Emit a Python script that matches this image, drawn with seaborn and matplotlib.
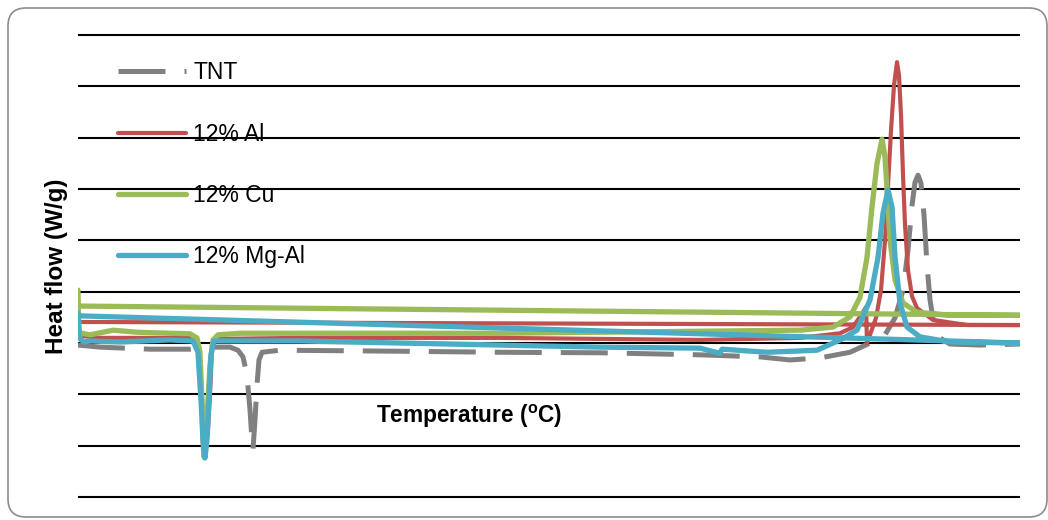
import matplotlib.pyplot as plt
import seaborn as sns
from matplotlib.patches import FancyBboxPatch
from matplotlib.transforms import IdentityTransform

# DSC curves (temperature in degC, heat flow in W/g)
tnt_t = [40.0, 48.8, 68.8, 84.8, 94.8, 100.8, 104.0, 106.0, 107.6, 108.8, 109.6, 110.0,
         110.8, 111.6, 112.4, 113.6, 120.8, 168.8, 208.8, 248.8, 288.8, 312.8, 324.8,
         336.8, 348.8, 356.8, 362.8, 366.8, 370.0, 372.0, 373.6, 374.8, 376.0, 377.2,
         378.4, 379.6, 380.8, 382.4, 384.8, 388.8, 400.8, 416.8]
tnt_hf = [-0.04, -0.08, -0.12, -0.12, -0.08, -0.08, -0.14, -0.27, -0.62, -1.30, -1.89, -2.08,
          -1.50, -0.82, -0.33, -0.18, -0.14, -0.16, -0.18, -0.19, -0.23, -0.27, -0.33,
          -0.29, -0.18, 0.00, 0.16, 0.49, 1.03, 1.81, 2.68, 3.13, 3.27, 3.11,
          2.49, 1.52, 0.84, 0.35, 0.10, -0.02, -0.04, -0.02]

al_t = [40.0, 40.8, 48.8, 84.8, 88.0, 89.2, 90.4, 91.2, 92.0, 92.8, 93.6, 94.8, 128.8,
        208.8, 288.8, 328.8, 344.8, 350.0, 354.0, 355.2, 355.6, 356.8, 359.2, 361.2,
        362.8, 364.0, 365.2, 366.4, 367.6, 368.4, 369.2, 370.0, 370.8, 372.0, 373.6,
        375.6, 382.0, 395.6, 416.8, 40.0]
al_hf = [0.64, 0.14, 0.10, 0.10, -0.04, -0.72, -1.69, -2.02, -1.69, -1.01, -0.14, 0.08, 0.10,
         0.10, 0.06, 0.10, 0.19, 0.31, 0.60, 0.70, 0.00, 0.16, 0.49, 1.03,
         2.00, 3.07, 4.14, 5.02, 5.47, 5.21, 4.44, 3.27, 2.30, 1.42, 0.91,
         0.68, 0.45, 0.35, 0.35, 0.41]

cu_t = [40.0, 40.4, 41.6, 44.8, 50.0, 54.0, 63.6, 76.8, 84.8, 87.6, 88.8, 89.6, 90.0,
        90.4, 91.2, 92.0, 92.8, 94.0, 96.0, 104.8, 208.8, 288.8, 328.8, 342.0, 348.8,
        352.8, 355.6, 357.6, 359.6, 361.6, 362.8, 363.6, 364.8, 366.8, 370.0, 375.6,
        388.8, 416.8, 40.0]
cu_hf = [1.03, 0.12, 0.19, 0.16, 0.21, 0.25, 0.21, 0.19, 0.18, 0.10, -0.18, -1.11, -1.89,
         -2.22, -1.89, -1.11, -0.43, 0.06, 0.16, 0.19, 0.19, 0.23, 0.25, 0.31, 0.51,
         0.89, 1.67, 2.65, 3.50, 3.97, 3.62, 2.98, 2.00, 1.23, 0.78, 0.60,
         0.54, 0.54, 0.72]

mgal_t = [40.0, 40.4, 42.4, 44.8, 56.8, 76.8, 86.0, 88.0, 89.2, 90.0, 90.8, 91.6, 92.4,
          93.2, 94.4, 98.8, 128.8, 188.8, 248.8, 288.8, 296.8, 297.6, 315.6, 335.6,
          344.8, 351.6, 356.8, 360.0, 362.0, 364.0, 365.6, 366.8, 368.8, 371.6, 376.8,
          388.8, 416.8, 40.0]
mgal_hf = [0.58, 0.10, 0.02, 0.04, 0.02, 0.06, 0.04, -0.18, -1.11, -1.89, -2.24, -1.89, -1.11,
           -0.23, 0.04, 0.04, 0.04, -0.02, -0.08, -0.10, -0.20, -0.12, -0.18, -0.14,
           0.06, 0.25, 0.84, 1.67, 2.53, 2.98, 2.65, 1.67, 0.78, 0.31, 0.12,
           0.02, 0.00, 0.53]

sns.set_style("white")
plt.rcParams['font.family'] = ['Liberation Sans', 'DejaVu Sans']
plt.rcParams['text.color'] = 'black'
plt.rcParams['axes.labelcolor'] = 'black'
plt.rcParams['mathtext.fontset'] = 'custom'
plt.rcParams['mathtext.bf'] = 'Liberation Sans:bold'

fig = plt.figure(figsize=(10.48, 5.2), dpi=100)
ax = fig.add_axes([0.0744, 0.0392, 0.8989, 0.8985])

# series drawn in legend order, last one on top
sns.lineplot(x=tnt_t, y=tnt_hf, ax=ax, sort=False, estimator=None, color='#808080',
             lw=3.6, linestyle=(0, (9.4, 3.8)), label='TNT')
sns.lineplot(x=al_t, y=al_hf, ax=ax, sort=False, estimator=None, color='#C0504D',
             lw=3.0, solid_joinstyle='round', solid_capstyle='round', label='12% Al')
sns.lineplot(x=cu_t, y=cu_hf, ax=ax, sort=False, estimator=None, color='#9BBB59',
             lw=3.8, solid_joinstyle='round', solid_capstyle='round', label='12% Cu')
sns.lineplot(x=mgal_t, y=mgal_hf, ax=ax, sort=False, estimator=None, color='#4BACC6',
             lw=3.8, solid_joinstyle='round', solid_capstyle='round', label='12% Mg-Al')

ax.set_xlim(40, 416.8)
ax.set_ylim(-3.05, 6.05)
ax.set_yticks(range(-3, 7))
ax.set_xticks([])
ax.grid(axis='y', color='black', lw=1.5)
ax.set_axisbelow(True)
ax.tick_params(left=False, bottom=False, labelleft=False, labelbottom=False)
sns.despine(ax=ax, left=True, bottom=True)

ax.set_xlabel(r'Temperature ($^\mathbf{o}$C)', fontsize=16.3, fontweight='bold')
ax.xaxis.set_label_coords(0.415, 0.179)
ax.xaxis.label.set_va('center')
ax.set_ylabel('Heat flow (W/g)', fontsize=17.5, fontweight='bold')
ax.yaxis.set_label_coords(-0.0223, 0.5)
ax.yaxis.label.set_va('center')

leg = ax.legend(loc='upper left', bbox_to_anchor=(0.0425, 0.938), frameon=False,
                fontsize=16.5, handlelength=2.95, handletextpad=0.34, labelspacing=1.67,
                borderpad=0, borderaxespad=0)
for txt in leg.get_texts():
    txt.set_color('black')
leg.set_zorder(0.4)

# rounded chart-area border
frame = FancyBboxPatch((8, 3), 1039, 509, boxstyle='round,pad=0,rounding_size=18',
                       transform=IdentityTransform(), fill=False,
                       edgecolor='#8c8c8c', lw=1.2)
fig.add_artist(frame)

plt.savefig('out.png', dpi=100)
